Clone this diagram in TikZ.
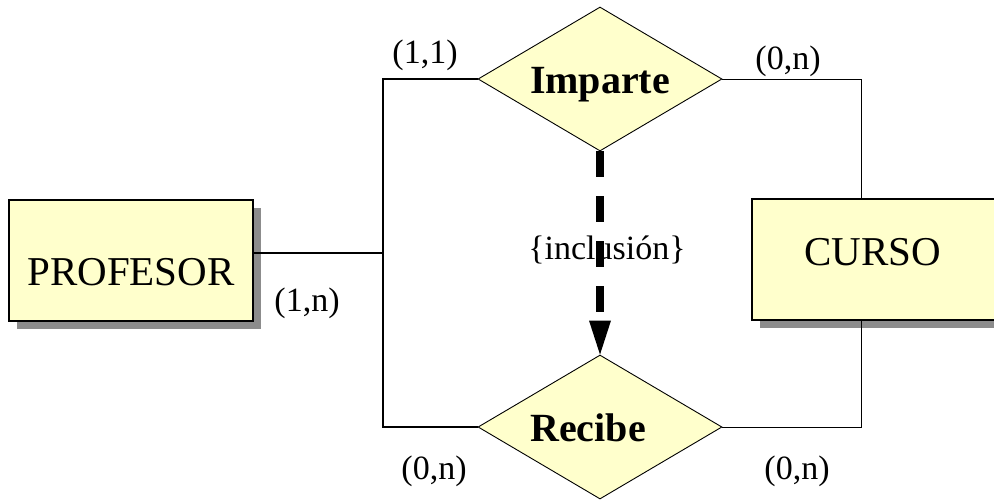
\documentclass[tikz,border=0pt]{standalone}
\usepackage{fontspec}
\setmainfont{Liberation Serif}
\usetikzlibrary{shapes.geometric,shadows,arrows.meta}
\definecolor{paleyellow}{HTML}{FFFFCC}
\definecolor{shadowgray}{HTML}{8C8C8C}
\tikzset{
  entity/.style={draw=black, line width=1.3pt, fill=paleyellow, inner sep=0pt,
    drop shadow={shadow xshift=8pt, shadow yshift=-8pt, fill=shadowgray, opacity=1}},
  relation/.style={diamond, draw=black, line width=0.9pt, fill=paleyellow, inner sep=0pt,
    minimum width=244pt, minimum height=144pt},
  bigtext/.style={font=\fontsize{41}{48}\selectfont, inner sep=0pt, anchor=base},
  reltext/.style={font=\fontsize{40}{46}\selectfont\bfseries, inner sep=0pt, anchor=base},
  card/.style={font=\fontsize{34}{40}\selectfont, inner sep=0pt},
  thickline/.style={line width=2.4pt},
  thinline/.style={line width=1pt},
  inclusion/.style={line width=7.5pt, dash pattern=on 26pt off 19pt,
    -{Triangle[width=22pt,length=34pt,line width=0pt]}}
}
\begin{document}
\begin{tikzpicture}[x=1pt,y=-1pt]
\useasboundingbox (0,0) rectangle (994,499);
\clip (0,0) rectangle (994,499);
% entities
\node[entity, minimum width=244pt, minimum height=121pt] (prof) at (131,260.5) {};
\node[bigtext] (proftext) at (131,285) {PROFESOR};
\node[entity, minimum width=250pt, minimum height=121pt] (curso) at (877,259.5) {};
\node[bigtext] (cursotext) at (873,265) {CURSO};
% relations
\node[relation] (imp) at (600,79) {};
\node[reltext] (imptext) at (600,93) {Imparte};
\node[relation] (rec) at (600,427) {};
\node[reltext] (rectext) at (588,441) {Recibe};
% junction coordinates
\coordinate (jm) at (383,253);
\coordinate (jt) at (383,79);
\coordinate (jb) at (383,427);
\coordinate (rt) at (861,79);
\coordinate (rb) at (861,427);
% connectors
\draw[thickline] (prof.east |- jm) -- (jm);
\draw[thickline] (imp.west) -- (jt) -- (jb) -- (rec.west);
\draw[thinline] (imp.east) -- (rt) -- (rt |- curso.north);
\draw[thinline] (rec.east) -- (rb) -- (rb |- curso.south);
% inclusion
\node[card] (inc) at (607,250) {\{inclusión\}};
\draw[inclusion] (imp.south) -- (rec.north);
% cardinalities
\node[card] (c11) at (425,55) {(1,1)};
\node[card] (c0n1) at (788,61) {(0,n)};
\node[card] (c1n) at (307,303) {(1,n)};
\node[card] (c0n2) at (434,471) {(0,n)};
\node[card] (c0n3) at (797,471) {(0,n)};
\end{tikzpicture}
\end{document}
